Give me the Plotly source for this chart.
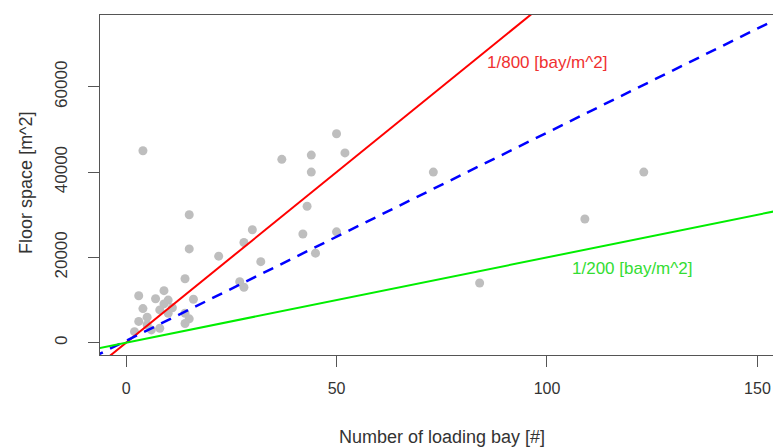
import plotly.graph_objects as go

# Observed warehouses: number of loading bays vs. floor space
bays = [4, 15, 15, 22, 14, 3, 9, 7, 10, 9, 4, 8, 11, 16, 5, 3, 14, 15, 14, 10,
        5, 2, 8, 6, 50, 44, 37, 52, 44, 43, 30, 42, 50, 28, 32, 45, 27, 28,
        73, 123, 109, 84]
floor = [45000, 30000, 22000, 20300, 15000, 11000, 12200, 10300, 10000, 9100,
         8000, 7700, 8200, 10200, 6000, 5000, 6900, 5600, 4500, 6900,
         4200, 2600, 3400, 3000, 49000, 44000, 43000, 44500, 40000, 32000,
         26500, 25500, 26000, 23500, 19000, 21000, 14300, 13000,
         40000, 40000, 29000, 14000]

# Reference ratios (m^2 of floor per bay) and fitted line coefficients
ratio_high = 800
ratio_low = 200
fit_slope = 488
fit_intercept = 450

x_ticks = [0, 50, 100, 150]
y_ticks = [0, 20000, 40000, 60000]
y_tick_labels = ["0", "20000", "40000", "60000"]

line_x = [-20, 200]

fig = go.Figure()
fig.add_trace(go.Scatter(
    x=bays, y=floor, mode="markers",
    marker=dict(color="#BEBEBE", size=9, line=dict(width=0)),
    showlegend=False))
fig.add_trace(go.Scatter(
    x=line_x, y=[ratio_high * v for v in line_x], mode="lines",
    line=dict(color="#FF0000", width=2), showlegend=False))
fig.add_trace(go.Scatter(
    x=line_x, y=[fit_slope * v + fit_intercept for v in line_x], mode="lines",
    line=dict(color="#0000FF", width=2.5, dash="11px,8px"), showlegend=False))
fig.add_trace(go.Scatter(
    x=line_x, y=[ratio_low * v for v in line_x], mode="lines",
    line=dict(color="#00EE00", width=2), showlegend=False))

font = "Liberation Sans, Arial, sans-serif"

fig.update_layout(
    width=773, height=447,
    margin=dict(l=100, r=0, t=15, b=92, pad=0),
    paper_bgcolor="white", plot_bgcolor="white",
    font=dict(family=font, size=16, color="#333333"),
    xaxis=dict(range=[-6.2, 153.7], tickvals=x_ticks, ticks="outside",
               ticklen=11, tickcolor="#555555", showgrid=False, zeroline=False,
               showline=True, linecolor="#555555", linewidth=1, mirror=True,
               tickfont=dict(size=16, color="#333333"), ticklabelstandoff=8),
    yaxis=dict(range=[-2880, 76840], tickvals=y_ticks, ticktext=y_tick_labels,
               ticks="outside", ticklen=11, tickcolor="#555555",
               showgrid=False, zeroline=False,
               showline=True, linecolor="#555555", linewidth=1, mirror=False,
               tickangle=-90, tickfont=dict(size=17, color="#333333"),
               ticklabelstandoff=14),
    annotations=[
        dict(text="Number of loading bay [#]", xref="paper", yref="paper",
             x=0.508, y=-0.241, xanchor="center", yanchor="middle",
             showarrow=False, font=dict(size=18, color="#333333")),
        dict(text="Floor space [m^2]", xref="paper", yref="paper",
             x=-0.111, y=0.507, xanchor="center", yanchor="middle",
             textangle=-90, showarrow=False,
             font=dict(size=18, color="#333333")),
        dict(text="1/800 [bay/m^2]", x=100.1, y=65800, xanchor="center",
             yanchor="middle", showarrow=False,
             font=dict(size=17, color="#F03030")),
        dict(text="1/200 [bay/m^2]", x=120.2, y=17500, xanchor="center",
             yanchor="middle", showarrow=False,
             font=dict(size=17, color="#33DD33")),
    ],
)

fig.write_html("out.html")
